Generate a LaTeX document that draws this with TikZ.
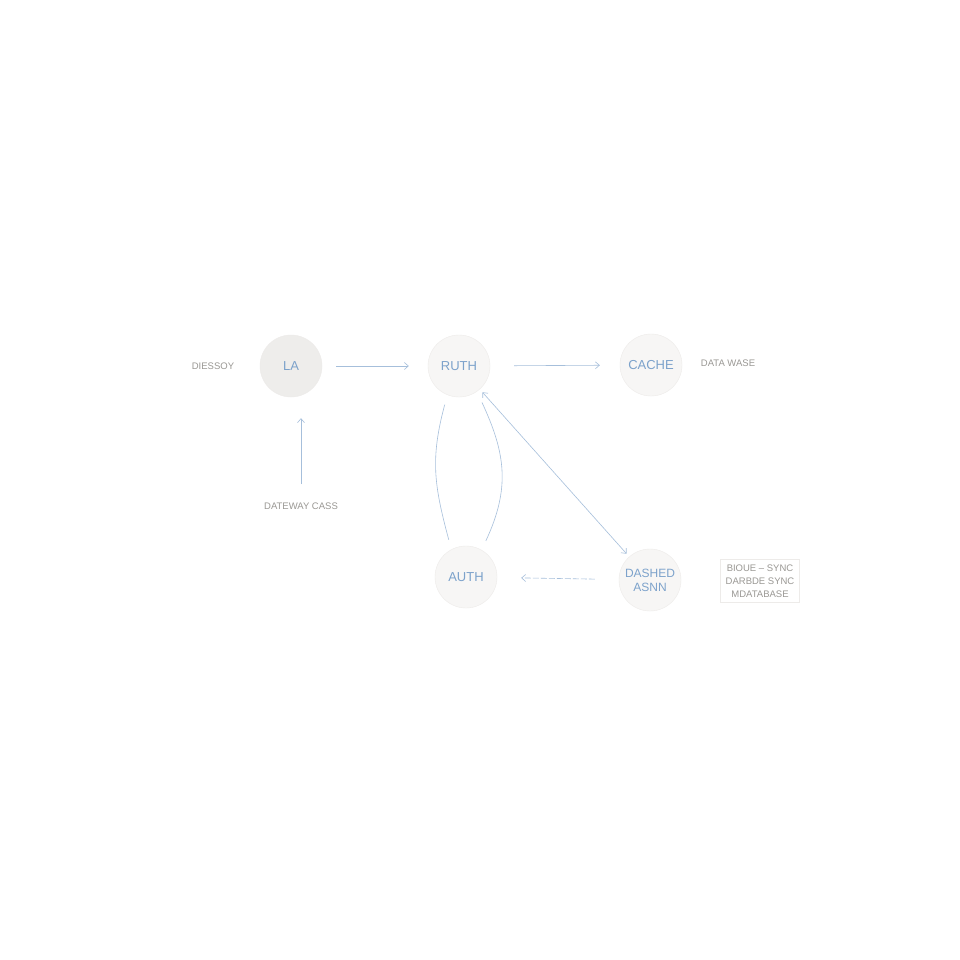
\documentclass[tikz,border=0pt]{standalone}
\usepackage{fontspec}
\setmainfont{Liberation Sans}
\usetikzlibrary{arrows,arrows.meta,positioning}

\definecolor{nodefill}{HTML}{F7F6F5}
\definecolor{lafill}{HTML}{EEEDEB}
\definecolor{nodeline}{HTML}{EDEBE9}
\definecolor{nodetext}{HTML}{7CA2CB}
\definecolor{linkblue}{HTML}{A6BFDB}
\definecolor{notegray}{HTML}{9A9894}

\begin{document}
\begin{tikzpicture}[x=1pt,y=-1pt,>={Straight Barb[length=4pt,width=7pt]},auto]
  \tikzstyle{every state}=[circle,minimum size=62pt,inner sep=0pt,
    fill=nodefill,draw=nodeline,line width=0.4pt,
    text=nodetext,font=\fontsize{13}{15}\selectfont]
  \tikzstyle{note}=[text=notegray,font=\fontsize{9.5}{12}\selectfont]
  \tikzstyle{link}=[draw=linkblue,line width=0.6pt]

  \useasboundingbox[fill=white] (0,0) rectangle (960,960);

    \node[every state,fill=lafill] (la)  at (291,366) {LA};
    \node[every state] (auth)  at (459,366) {RUTH};
    \node[every state] (cache) at (651,365) {CACHE};
    \node[every state] (aut)   at (466,577) {AUTH};
    \node[every state,align=center,font=\fontsize{12}{14}\selectfont] (dashed) at (650,580) {DASHED\\ASNN};

    \node[note] (dies)    at (213,366) {DIESSOY};
    \node[note] (datawa)  at (728,363) {DATA WASE};
    \node[note] (gateway) at (301,506) {DATEWAY CASS};
    \node[note,draw=nodeline,align=center,inner sep=5pt,
      font=\fontsize{9.5}{13}\selectfont] (sync) at (760,581)
      {BIOUE -- SYNC\\DARBDE SYNC\\MDATABASE};

    \coordinate (gwtop) at ([yshift=15pt]gateway.north);
    \coordinate (latip) at ([yshift=-21pt]gateway.north |- la.south);

    \path[->,link]
    (la) edge [shorten <=14pt,shorten >=19pt]  node {}    (auth)
    (auth) edge [shorten <=24pt,shorten >=20pt]  node {}    (cache)
    (dashed) edge [dashed,dash pattern=on 6pt off 2pt,shorten <=24pt,shorten >=24pt]  node {}    (aut)
    ;
    \draw[->,link] (gwtop) -- (latip);
    \path[<->,link]
    (auth) edge [shorten <=4pt,shorten >=4pt]  node {}    (dashed)
    ;
    \path[link]
    (auth.-112) edge [out=-105,in=105,looseness=1.1,shorten <=10pt,shorten >=10pt] (aut.118)
    (auth.-55) edge [out=-65,in=65,looseness=1.1,shorten <=12pt,shorten >=10pt] (aut.60)
    ;

\end{tikzpicture}
\end{document}
